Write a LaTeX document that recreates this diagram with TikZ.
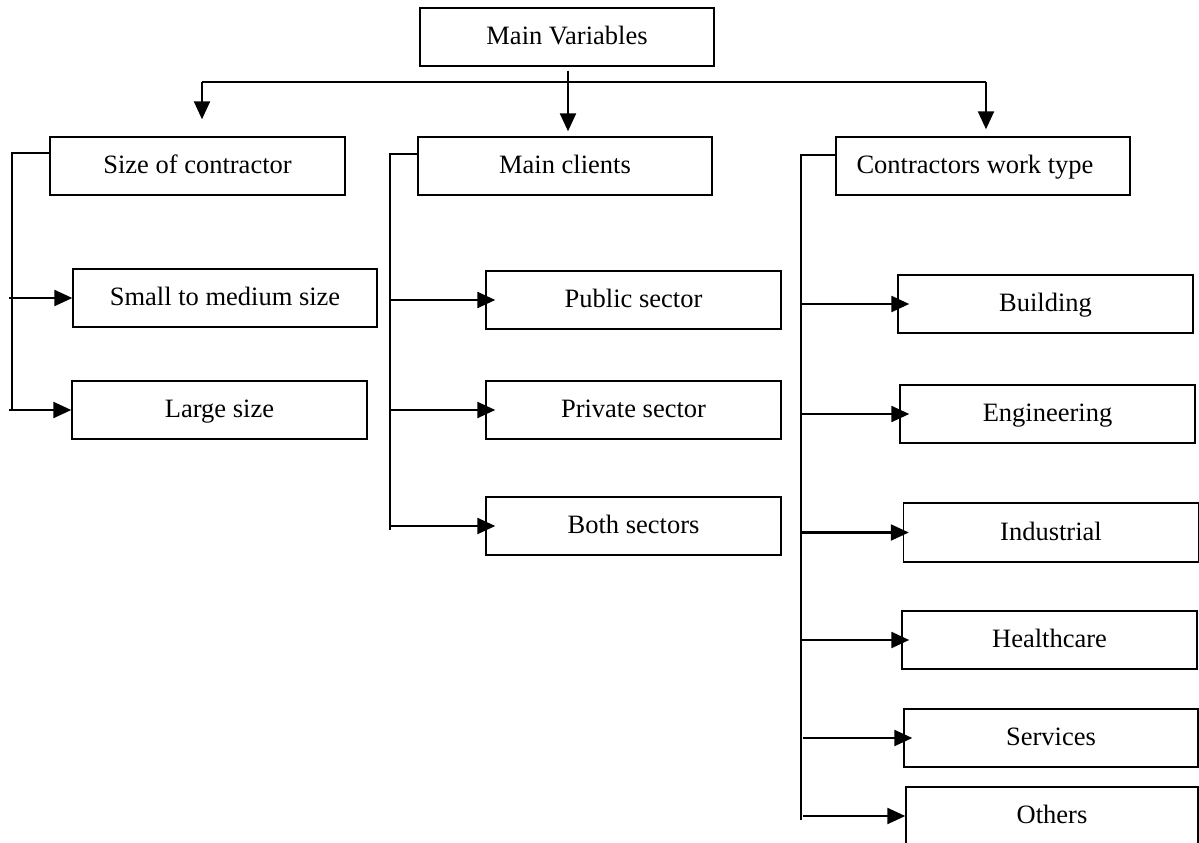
\documentclass[tikz,border=0pt]{standalone}
\usepackage{fontspec}
\setmainfont{Liberation Serif}
\usetikzlibrary{arrows.meta}
\begin{document}
\begin{tikzpicture}[x=1pt,y=-1pt,
  box/.style={draw, line width=1.4pt, inner sep=0pt, minimum width=295pt, minimum height=58pt,
    text height=19pt, text depth=4pt, font=\fontsize{26.5}{30}\selectfont},
  arr/.style={line width=2.3pt, -{Triangle[length=18pt,width=16pt]}},
  brk/.style={line width=1.6pt}]
\useasboundingbox (0,0) rectangle (1199,843);
% boxes
\node[box, minimum width=294pt] (main) at (567,37) {Main Variables};
\node[box] (size) at (197.5,166) {Size of contractor};
\node[box, minimum width=294pt] (clients) at (565,166) {Main clients};
\node[box, minimum width=294pt] (work) at (983,166) {\hspace*{-16pt}Contractors work type};
\node[box, minimum width=304pt] (small) at (225,298) {Small to medium size};
\node[box] (large) at (219.5,410) {Large size};
\node[box] (public) at (633.5,300) {Public sector};
\node[box] (private) at (633.5,410) {Private sector};
\node[box] (both) at (633.5,526) {Both sectors};
\node[box] (building) at (1045.5,304) {Building};
\node[box] (engineering) at (1047.5,414) {Engineering};
\node[box, minimum height=59pt] (industrial) at (1051,532.5) {Industrial};
\node[box] (healthcare) at (1049.5,640) {Healthcare};
\node[box, minimum width=294pt] (services) at (1051,738) {Services};
\node[box, minimum width=292pt] (others) at (1052,816) {Others};
% top distribution
\coordinate (hl) at (202,82);
\coordinate (hr) at (986,82);
\draw[brk] (hl) -- (hr);
\draw[arr, shorten >=17pt] (hl) -- (hl |- size.north);
\draw[arr, shorten >=7pt] (hr) -- (hr |- work.north);
\draw[arr, shorten >=5pt] ([xshift=1pt,yshift=-4pt]main.south) -- ([xshift=3pt]clients.north);
% left bracket
\coordinate (b1t) at (12,153);
\coordinate (b1b) at (12,410);
\draw[brk] (size.west |- b1t) -- (b1t) -- (b1b);
\draw[arr] ([xshift=-3pt]b1t |- small.west) -- (small.west);
\draw[arr] ([xshift=-3pt]b1t |- large.west) -- (large.west);
% middle bracket
\coordinate (b2t) at (390,154);
\coordinate (b2b) at (390,530);
\draw[brk] (clients.west |- b2t) -- (b2t) -- (b2b);
\draw[arr] (b2t |- public.west) -- ([xshift=10pt]public.west);
\draw[arr] (b2t |- private.west) -- ([xshift=10pt]private.west);
\draw[arr] (b2t |- both.west) -- ([xshift=10pt]both.west);
% right bracket
\coordinate (b3t) at (801,155);
\coordinate (b3b) at (801,820);
\draw[brk] (work.west |- b3t) -- (b3t) -- (b3b);
\draw[arr] (b3t |- building.west) -- ([xshift=12pt]building.west);
\draw[arr] (b3t |- engineering.west) -- ([xshift=10pt]engineering.west);
\draw[arr] (b3t |- industrial.west) -- ([xshift=6pt]industrial.west);
\draw[arr] (b3t |- healthcare.west) -- ([xshift=8pt]healthcare.west);
\draw[arr] ([xshift=2pt]b3t |- services.west) -- ([xshift=9pt]services.west);
\draw[arr] ([xshift=2pt]b3t |- others.west) -- (others.west);
\end{tikzpicture}
\end{document}
